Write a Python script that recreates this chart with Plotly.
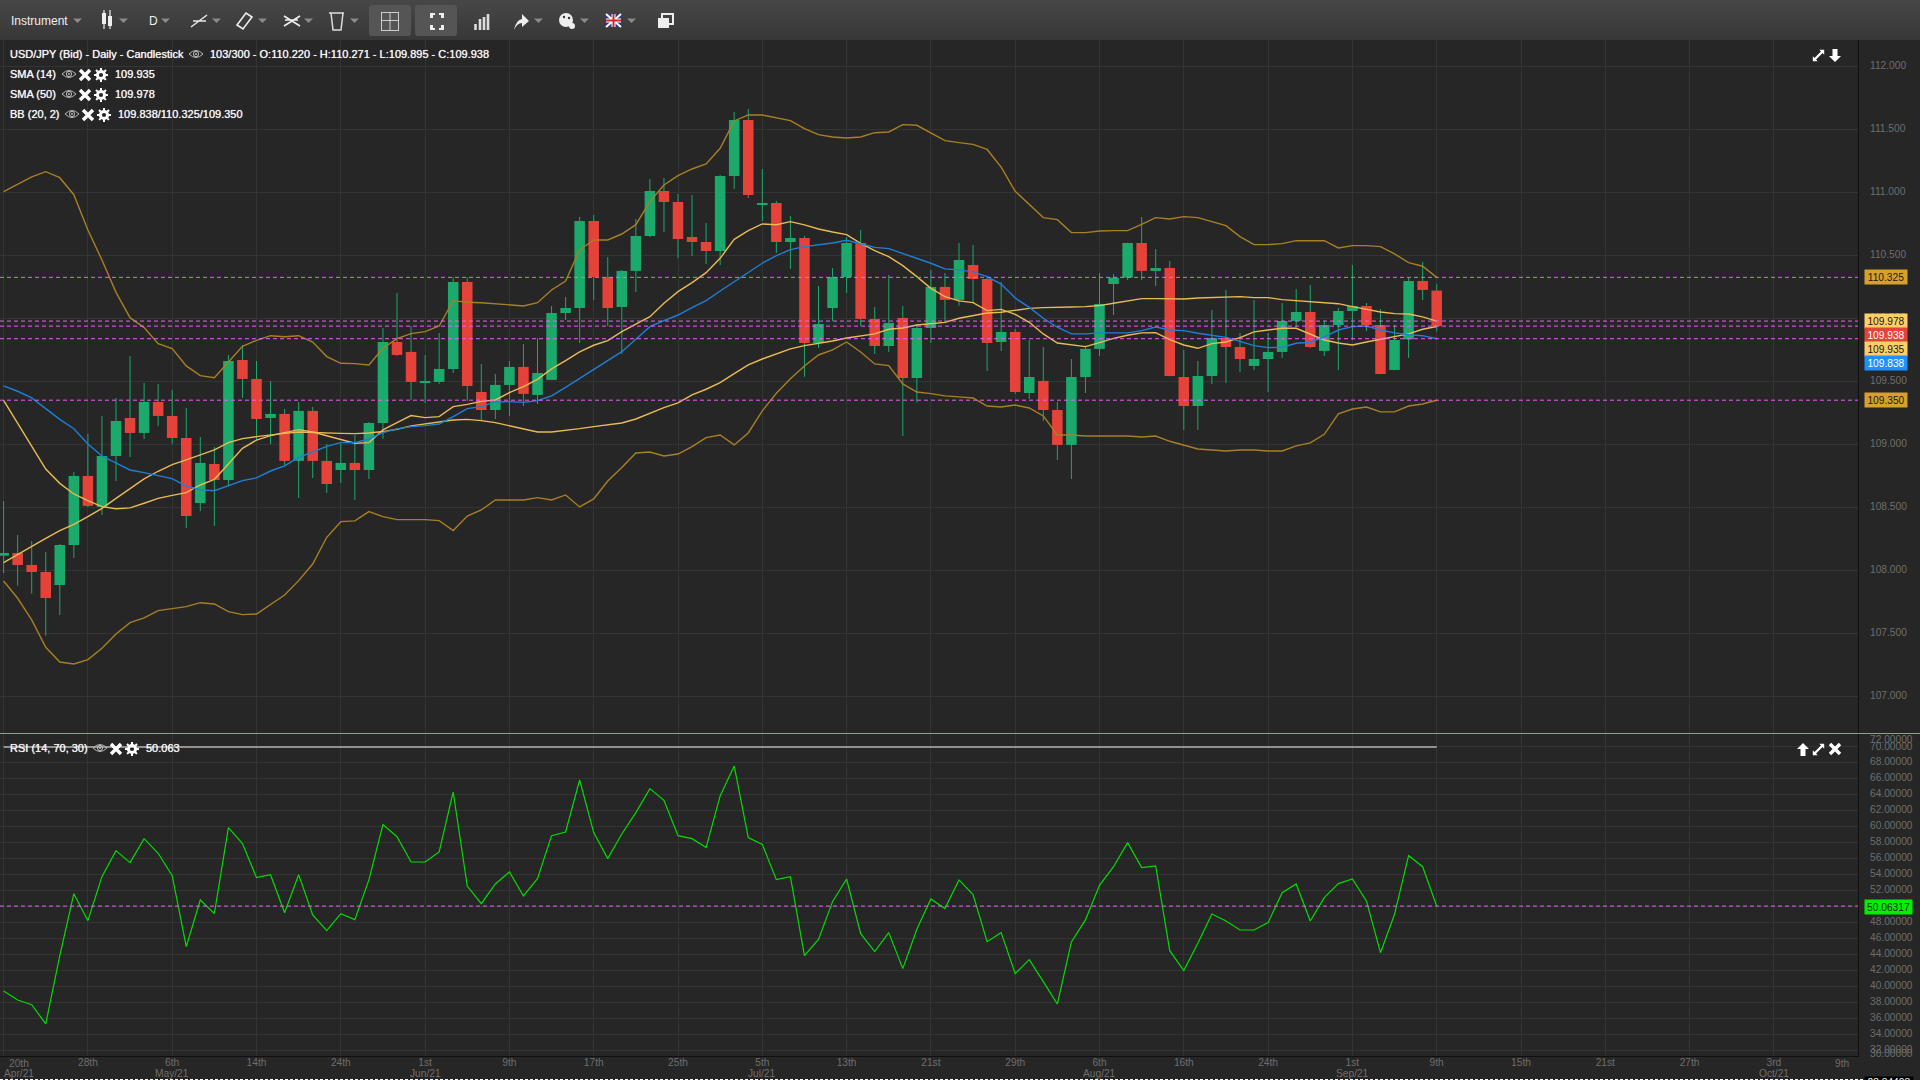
import base64
import plotly.graph_objects as go

# USD/JPY daily, values
opens = [108.116, 108.138, 108.042, 107.987, 107.884, 108.201, 108.749, 108.503, 108.907, 109.209,
         109.09, 109.336, 109.225, 109.05, 108.534, 108.844, 108.717, 109.669, 109.519, 109.209,
         109.241, 108.868, 109.265, 108.868, 108.796, 108.852, 108.796, 109.169, 109.812, 109.733,
         109.49, 109.495, 109.598, 110.288, 109.415, 109.272, 109.471, 109.614, 109.392, 109.511,
         110.042, 110.082, 110.772, 110.328, 110.09, 110.376, 110.653, 111.011, 110.923, 110.646,
         110.606, 110.534, 111.13, 111.574, 110.907, 110.915, 110.606, 110.638, 109.804, 110.082,
         110.328, 110.598, 109.995, 109.78, 110.003, 109.526, 109.923, 110.249, 110.146, 110.423,
         110.312, 109.812, 109.892, 109.407, 109.503, 109.272, 108.995, 109.534, 109.757, 110.272,
         110.323, 110.598, 110.376, 110.399, 109.534, 109.304, 109.542, 109.844, 109.772, 109.622,
         109.677, 109.733, 109.979, 110.05, 109.741, 109.947, 110.058, 110.098, 109.947, 109.59,
         109.833, 110.296, 110.220]
highs = [108.55, 108.28, 108.233, 108.146, 108.209, 108.78, 109.082, 109.225, 109.368, 109.701,
         109.487, 109.479, 109.431, 109.288, 109.058, 108.979, 109.709, 109.788, 109.661, 109.503,
         109.28, 109.336, 109.296, 109.003, 109.003, 109.074, 109.177, 109.923, 110.201, 109.939,
         109.709, 109.884, 110.325, 110.325, 109.638, 109.558, 109.661, 109.796, 109.844, 110.098,
         110.169, 110.804, 110.82, 110.487, 110.384, 110.788, 111.106, 111.114, 110.987, 110.979,
         110.757, 111.138, 111.638, 111.661, 111.185, 110.931, 110.812, 110.653, 110.257, 110.399,
         110.646, 110.701, 110.09, 110.344, 110.098, 109.955, 110.384, 110.36, 110.598, 110.582,
         110.32, 110.288, 109.915, 109.828, 109.772, 109.336, 109.677, 109.78, 110.36, 110.352,
         110.6, 110.804, 110.55, 110.455, 109.749, 109.661, 110.066, 110.225, 109.884, 110.146,
         109.884, 110.122, 110.233, 110.265, 109.979, 110.082, 110.423, 110.122, 110.074, 109.947,
         110.32, 110.447, 110.271]
lows = [107.979, 107.878, 107.815, 107.481, 107.646, 108.098, 108.503, 108.439, 108.709, 108.9,
        109.042, 109.146, 109.003, 108.336, 108.471, 108.352, 108.677, 109.368, 109.026, 109.003,
        108.836, 108.574, 108.733, 108.614, 108.693, 108.558, 108.725, 109.042, 109.701, 109.352,
        109.328, 109.479, 109.566, 109.344, 109.188, 109.201, 109.225, 109.304, 109.32, 109.511,
        109.987, 109.804, 110.146, 109.939, 109.717, 110.209, 110.646, 110.685, 110.479, 110.495,
        110.431, 110.423, 111.026, 110.955, 110.772, 110.519, 110.392, 109.537, 109.765, 109.979,
        110.201, 109.939, 109.717, 109.733, 109.066, 109.331, 109.804, 109.971, 110.10, 110.122,
        109.582, 109.741, 109.399, 109.36, 109.185, 108.876, 108.725, 109.407, 109.701, 110.026,
        110.304, 110.304, 110.257, 109.54, 109.114, 109.114, 109.479, 109.487, 109.574, 109.59,
        109.415, 109.685, 109.93, 109.765, 109.701, 109.59, 109.828, 109.9, 109.555, 109.588,
        109.685, 110.146, 109.895]
closes = [108.138, 108.042, 107.987, 107.78, 108.201, 108.749, 108.511, 108.907, 109.185, 109.09,
          109.336, 109.225, 109.05, 108.431, 108.852, 108.717, 109.661, 109.519, 109.201, 109.241,
          108.868, 109.265, 108.868, 108.685, 108.852, 108.796, 109.169, 109.812, 109.709, 109.495,
          109.495, 109.598, 110.288, 109.463, 109.272, 109.471, 109.614, 109.4, 109.566, 110.042,
          110.082, 110.772, 110.328, 110.082, 110.376, 110.653, 111.011, 110.923, 110.63, 110.606,
          110.534, 111.13, 111.574, 110.979, 110.913, 110.606, 110.638, 109.804, 109.955, 110.328,
          110.598, 109.995, 109.78, 109.963, 109.526, 109.923, 110.249, 110.146, 110.463, 110.312,
          109.804, 109.892, 109.415, 109.534, 109.272, 108.995, 109.534, 109.757, 110.114, 110.323,
          110.598, 110.376, 110.399, 109.542, 109.304, 109.542, 109.844, 109.772, 109.677, 109.677,
          109.733, 109.979, 110.05, 109.772, 109.947, 110.058, 110.098, 109.947, 109.558, 109.828,
          110.296, 110.225, 109.938]

sma14 = [109.349, 109.167, 108.981, 108.804, 108.69, 108.606, 108.553, 108.505, 108.489, 108.495,
         108.532, 108.571, 108.595, 108.616, 108.677, 108.722, 108.844, 108.968, 109.034, 109.069,
         109.093, 109.116, 109.098, 109.069, 109.04, 109.008, 109.013, 109.114, 109.172, 109.228,
         109.212, 109.22, 109.299, 109.317, 109.341, 109.352, 109.41, 109.458, 109.516, 109.598,
         109.664, 109.733, 109.786, 109.823, 109.894, 109.952, 110.013, 110.119, 110.212, 110.283,
         110.362, 110.476, 110.627, 110.696, 110.749, 110.743, 110.767, 110.741, 110.709, 110.685,
         110.664, 110.595, 110.537, 110.489, 110.418, 110.331, 110.238, 110.172, 110.138, 110.124,
         110.061, 110.071, 110.032, 109.968, 109.876, 109.804, 109.791, 109.775, 109.807, 109.841,
         109.865, 109.884, 109.886, 109.831, 109.788, 109.762, 109.799, 109.812, 109.847, 109.892,
         109.907, 109.921, 109.921, 109.876, 109.828, 109.804, 109.788, 109.812, 109.833, 109.852,
         109.876, 109.913, 109.935]
sma50 = [108.061, 108.127, 108.188, 108.254, 108.315, 108.365, 108.426, 108.492, 108.571, 108.648,
         108.725, 108.786, 108.839, 108.876, 108.915, 108.955, 109.013, 109.045, 109.061, 109.077,
         109.087, 109.098, 109.093, 109.09, 109.087, 109.085, 109.09, 109.101, 109.119, 109.146,
         109.161, 109.18, 109.193, 109.198, 109.188, 109.172, 109.146, 109.122, 109.098, 109.098,
         109.108, 109.124, 109.14, 109.153, 109.169, 109.201, 109.249, 109.291, 109.328, 109.392,
         109.437, 109.489, 109.561, 109.63, 109.677, 109.717, 109.757, 109.783, 109.799, 109.82,
         109.844, 109.86, 109.876, 109.913, 109.923, 109.947, 109.96, 109.968, 110.0, 110.019,
         110.042, 110.048, 110.066, 110.079, 110.085, 110.085, 110.09, 110.093, 110.101, 110.119,
         110.14, 110.156, 110.156, 110.153, 110.153, 110.161, 110.164, 110.172, 110.172, 110.164,
         110.164, 110.148, 110.14, 110.13, 110.124, 110.116, 110.093, 110.069, 110.05, 110.037,
         110.034, 110.011, 109.978]
bb_mid = [109.463, 109.421, 109.368, 109.28, 109.198, 109.124, 109.003, 108.907, 108.849, 108.796,
          108.775, 108.749, 108.728, 108.669, 108.638, 108.632, 108.675, 108.712, 108.733, 108.788,
          108.828, 108.897, 108.939, 108.984, 109.013, 109.013, 109.042, 109.093, 109.122, 109.14,
          109.148, 109.161, 109.22, 109.283, 109.299, 109.336, 109.339, 109.333, 109.347, 109.384,
          109.452, 109.524, 109.598, 109.664, 109.735, 109.833, 109.934, 109.981, 110.026, 110.085,
          110.14, 110.217, 110.291, 110.362, 110.437, 110.497, 110.545, 110.569, 110.582, 110.598,
          110.619, 110.59, 110.563, 110.553, 110.516, 110.476, 110.437, 110.392, 110.384, 110.368,
          110.331, 110.272, 110.161, 110.087, 110.0, 109.929, 109.876, 109.876, 109.884, 109.884,
          109.884, 109.902, 109.931, 109.907, 109.902, 109.881, 109.865, 109.849, 109.817, 109.783,
          109.767, 109.77, 109.802, 109.81, 109.852, 109.907, 109.934, 109.939, 109.907, 109.884,
          109.87, 109.862, 109.838]
bb_upper = [111.005, 111.066, 111.122, 111.164, 111.116, 110.981, 110.701, 110.463, 110.206, 110.005,
            109.926, 109.799, 109.759, 109.622, 109.545, 109.529, 109.656, 109.778, 109.825, 109.862,
            109.854, 109.862, 109.812, 109.696, 109.643, 109.64, 109.63, 109.762, 109.839, 109.878,
            109.894, 109.939, 110.14, 110.127, 110.124, 110.116, 110.106, 110.098, 110.124, 110.225,
            110.296, 110.542, 110.622, 110.622, 110.669, 110.743, 110.926, 111.058, 111.132, 111.185,
            111.225, 111.349, 111.566, 111.614, 111.614, 111.593, 111.569, 111.505, 111.458, 111.439,
            111.431, 111.439, 111.473, 111.479, 111.537, 111.532, 111.468, 111.41, 111.394, 111.38,
            111.34, 111.2, 111.008, 110.9, 110.799, 110.783, 110.68, 110.68, 110.693, 110.696,
            110.696, 110.746, 110.799, 110.788, 110.807, 110.799, 110.767, 110.735, 110.648, 110.585,
            110.585, 110.593, 110.616, 110.616, 110.616, 110.558, 110.577, 110.577, 110.569, 110.511,
            110.442, 110.413, 110.325]
bb_lower = [107.915, 107.778, 107.606, 107.389, 107.272, 107.257, 107.291, 107.381, 107.495, 107.585,
            107.622, 107.68, 107.696, 107.712, 107.743, 107.733, 107.672, 107.648, 107.653, 107.725,
            107.804, 107.918, 108.05, 108.262, 108.386, 108.392, 108.466, 108.426, 108.402, 108.402,
            108.402, 108.394, 108.315, 108.431, 108.479, 108.558, 108.558, 108.558, 108.577, 108.558,
            108.598, 108.503, 108.566, 108.709, 108.815, 108.931, 108.939, 108.907, 108.923, 108.981,
            109.053, 109.074, 108.995, 109.09, 109.265, 109.405, 109.521, 109.622, 109.709, 109.749,
            109.812, 109.733, 109.638, 109.624, 109.479, 109.415, 109.402, 109.384, 109.376, 109.368,
            109.304, 109.296, 109.312, 109.288, 109.225, 109.074, 109.074, 109.066, 109.066, 109.066,
            109.066, 109.058, 109.066, 109.024, 108.992, 108.963, 108.955, 108.947, 108.955, 108.955,
            108.947, 108.947, 108.987, 109.011, 109.079, 109.241, 109.28, 109.296, 109.257, 109.257,
            109.304, 109.32, 109.35]
rsi_values = [39.43, 38.30, 37.72, 35.30, 43.86, 51.62, 48.24, 53.75, 57.01, 55.51,
              58.51, 56.68, 53.88, 44.99, 50.83, 49.12, 59.89, 57.89, 53.63, 54.00,
              49.24, 54.00, 48.95, 46.99, 49.12, 48.37, 53.34, 60.27, 58.76, 55.59,
              55.59, 56.84, 64.36, 52.58, 50.37, 52.84, 54.34, 51.33, 53.50, 58.89,
              59.35, 65.86, 59.27, 56.01, 59.10, 61.77, 64.78, 63.32, 58.89, 58.51,
              57.39, 63.86, 67.62, 58.64, 57.80, 53.38, 53.75, 43.86, 45.90, 50.62,
              53.46, 46.61, 44.36, 46.74, 42.23, 47.16, 50.96, 49.75, 53.34, 51.50,
              45.61, 46.74, 41.60, 43.36, 40.60, 37.80, 45.57, 48.33, 52.67, 55.00,
              58.01, 54.88, 55.09, 44.48, 41.98, 45.40, 49.08, 48.20, 47.07, 47.07,
              47.99, 51.75, 52.84, 48.20, 51.12, 52.88, 53.46, 50.71, 44.23, 49.04,
              56.38, 55.00, 50.06]
rsi_upper_level = 70

day_labels = ['20th', '28th', '6th', '14th', '24th', '1st', '9th', '17th', '25th', '5th', '13th', '21st',
              '29th', '6th', '16th', '24th', '1st', '9th', '15th', '21st', '27th', '3rd', '9th']
tick_positions = [i * 6 for i in range(len(day_labels))]
month_labels = {12: 'May/21', 30: 'Jun/21', 54: 'Jul/21', 78: 'Aug/21', 96: 'Sep/21', 126: 'Oct/21'}
price_ticks = [107.0, 107.5, 108.0, 108.5, 109.0, 109.5, 110.0, 110.5, 111.0, 111.5, 112.0]
rsi_ticks = [32, 34, 36, 38, 40, 42, 44, 46, 48, 50, 52, 54, 56, 58, 60, 62, 64, 66, 68, 70]
price_levels = [110.325, 109.978, 109.938, 109.838, 109.350]
rsi_level = 50.06317

BG = '#262626'
GRID = '#343434'
AXIS_TEXT = '#6e6e6e'
TEXT = '#f2f2f2'
GREEN = '#1baa6b'
RED = '#e5433a'
YELLOW = '#e9bb52'
GOLD = '#a97f24'
BLUE = '#1f7fd8'
MAGENTA = '#f25cff'
FONT = 'Liberation Sans'
W, H = 1920, 1080
AXIS_X = 1858
STEP = 14.05
X0 = 3.6
TICK_SIZE = 10.2

idx = list(range(103))
x_range = [-X0 / STEP, (AXIS_X - X0) / STEP]


def fx(px):
    return px / W


def fy(py):
    return 1 - py / H


def label(text, x, y, size=11, color=TEXT, anchor='left', bg=None, **kw):
    font = dict(family=FONT, size=size, color=color)
    # the legend text of the original looks heavier than a plain 11px font
    if size == 11:
        font['shadow'] = '0 0 0.7px #ffffff'
    d = dict(text=text, xref='paper', yref='paper', x=fx(x), y=fy(y), xanchor=anchor, yanchor='middle',
             showarrow=False, font=font, borderpad=0)
    if bg:
        d['bgcolor'] = bg
    d.update(kw)
    return d


def svg_uri(body, w, h):
    svg = f'<svg xmlns="http://www.w3.org/2000/svg" width="{w}" height="{h}" viewBox="0 0 {w} {h}">{body}</svg>'
    return 'data:image/svg+xml;base64,' + base64.b64encode(svg.encode()).decode()


def image(body, x, y, w, h, vw=None, vh=None):
    return dict(source=svg_uri(body, vw or w, vh or h), xref='paper', yref='paper', x=fx(x), y=fy(y), sizex=w / W,
                sizey=h / H, xanchor='left', yanchor='top', sizing='stretch', layer='above')


EYE = ('<path d="M1 6 Q8 -1 15 6 Q8 13 1 6 Z" fill="none" stroke="#bbb" stroke-width="1"/>'
       '<circle cx="8" cy="6" r="2.6" fill="none" stroke="#bbb" stroke-width="1"/><circle cx="8" cy="6" r="1" fill="#bbb"/>')
CROSS = '<path d="M2 2 L12 12 M12 2 L2 12" stroke="#fff" stroke-width="3.4"/>'
GEAR = ('<circle cx="7" cy="7" r="3.6" fill="none" stroke="#fff" stroke-width="3"/>'
        '<path d="M7 0 V14 M0 7 H14 M2 2 L12 12 M12 2 L2 12" stroke="#fff" stroke-width="2" stroke-dasharray="2.4 9.2 2.4"/>')
EXPAND = ('<path d="M9 1 H15 V7 L13 5 L5 13 L7 15 H1 V9 L3 11 L11 3 Z" fill="#fff"/>')
UP = '<path d="M6 0 L12 6 H8.5 V13 H3.5 V6 H0 Z" fill="#fff"/>'
DOWN = '<path d="M6 13 L12 7 H8.5 V0 H3.5 V7 H0 Z" fill="#fff"/>'


def caret(x):
    return f'<path d="M{x} 18.5 H{x + 9} L{x + 4.5} 23 Z" fill="#8a8a8a"/>'


toolbar = (
    '<defs><linearGradient id="g" x1="0" y1="0" x2="0" y2="1"><stop offset="0" stop-color="#474747"/>'
    '<stop offset="1" stop-color="#373737"/></linearGradient></defs>'
    f'<rect width="{W}" height="40" fill="url(#g)"/>'
    '<rect x="369" y="5" width="42" height="31" rx="3" fill="#555555"/>'
    '<rect x="415" y="5" width="42" height="31" rx="3" fill="#555555"/>'
    # candles
    '<path d="M104 10 V29 M110 10 V29" stroke="#eee" stroke-width="1.2"/>'
    '<rect x="102" y="13" width="4" height="11" fill="#eee"/><rect x="108" y="16" width="4" height="10" fill="#eee"/>'
    # line tool
    '<path d="M191 27 L207 15 M193 21 H206" stroke="#e8e8e8" stroke-width="1.5"/>'
    # ruler
    '<path d="M237 25 L246 13 L252 17 L243 29 Z" fill="none" stroke="#eee" stroke-width="1.6"/>'
    # pattern tool
    '<path d="M284 16 L300 26 M284 26 L300 16 M285 20 L298 20" stroke="#eee" stroke-width="1.6"/>'
    # trash
    '<path d="M329 13 H344 M331 13 L333 30 H341 L343 13" fill="none" stroke="#ddd" stroke-width="1.5"/>'
    # window
    '<rect x="381.5" y="12.5" width="17" height="18" fill="none" stroke="#ccc"/><path d="M390 13 V30 M382 20.5 H398" stroke="#ccc"/>'
    # fullscreen
    '<path d="M430 13 H435 V15 H433 V18 H430 Z M444 13 H439 V15 H441 V18 H444 Z M430 30 H435 V28 H433 V25 H430 Z '
    'M444 30 H439 V28 H441 V25 H444 Z" fill="#eee"/>'
    # bar chart
    '<path d="M475.5 24 V30 M480 19 V30 M484 17 V30 M488 14 V30" stroke="#ddd" stroke-width="2.6"/>'
    # arrow
    '<path d="M514 30 Q516 20 522 19 V14 L529 21 L522 27 V23 Q517 23 514 30 Z" fill="#eee"/>'
    # palette
    '<circle cx="566" cy="20" r="7" fill="#eee"/><circle cx="572" cy="26" r="3" fill="#eee"/>'
    '<circle cx="564" cy="17" r="1.2" fill="#333"/><circle cx="569" cy="18" r="1.2" fill="#333"/>'
    # flag
    '<rect x="606" y="14" width="15" height="13" fill="#2b3b8c"/>'
    '<path d="M606 14 L621 27 M621 14 L606 27" stroke="#fff" stroke-width="2"/>'
    '<path d="M613.5 14 V27 M606 20.5 H621" stroke="#fff" stroke-width="4"/><path d="M613.5 14 V27 M606 20.5 H621" stroke="#d6242c" stroke-width="2"/>'
    # copy windows
    '<rect x="662" y="14" width="11" height="10" fill="none" stroke="#eee" stroke-width="2"/><rect x="658" y="18" width="11" height="10" fill="#eee"/>'
    + ''.join(caret(x) for x in (73, 119, 161, 212, 258, 304, 350, 534, 580, 627))
)

images = [
    image(toolbar, 0, 0, W, 40),
    image(EYE, 188, 48, 16, 12), image(EYE, 61, 68, 16, 12), image(CROSS, 78, 68, 14, 14), image(GEAR, 94, 68, 14, 14),
    image(EYE, 61, 88, 16, 12), image(CROSS, 78, 88, 14, 14), image(GEAR, 94, 88, 14, 14),
    image(EYE, 64, 108, 16, 12), image(CROSS, 81, 108, 14, 14), image(GEAR, 97, 108, 14, 14),
    image(EYE, 92, 742, 16, 12), image(CROSS, 109, 742, 14, 14), image(GEAR, 125, 742, 14, 14),
    image(EXPAND, 1812, 49, 13, 13, 16, 16), image(DOWN, 1829, 49, 12, 13),
    image(UP, 1797, 743, 12, 13), image(EXPAND, 1812, 743, 13, 13, 16, 16), image(CROSS, 1828, 742, 14, 14),
]

bodies_base = [min(o, c) for o, c in zip(opens, closes)]
bodies_height = [max(abs(o - c), 0.006) for o, c in zip(opens, closes)]
body_colors = [GREEN if c >= o else RED for o, c in zip(opens, closes)]
wick_height = [h - l for h, l in zip(highs, lows)]

fig = go.Figure()
fig.add_trace(go.Bar(x=idx, y=wick_height, base=lows, width=1 / STEP, marker=dict(color='rgba(27,170,107,0.99)', line_width=0)))
fig.add_trace(go.Bar(x=idx, y=bodies_height, base=bodies_base, width=0.75, marker=dict(color=body_colors, line_width=0)))

for values, color in [(bb_upper, GOLD), (bb_lower, GOLD), (sma50, YELLOW), (sma14, YELLOW), (bb_mid, BLUE)]:
    fig.add_trace(go.Scatter(x=idx, y=values, mode='lines', line=dict(color=color, width=1.4)))

fig.add_trace(go.Scatter(x=idx, y=rsi_values, mode='lines', line=dict(color='#00dc00', width=1.2), xaxis='x2', yaxis='y2'))
fig.add_trace(go.Scatter(x=[idx[0], idx[-1]], y=[rsi_upper_level, rsi_upper_level], mode='lines',
                         line=dict(color='#b4b4b4', width=1.6), xaxis='x2', yaxis='y2'))

shapes = []
for level in price_levels:
    shapes.append(dict(type='line', xref='paper', x0=0, x1=fx(AXIS_X), yref='y', y0=level, y1=level,
                       line=dict(color=MAGENTA, width=1, dash='4px,3px')))
shapes.append(dict(type='line', xref='paper', x0=0, x1=fx(AXIS_X), yref='y2', y0=rsi_level, y1=rsi_level,
                   line=dict(color=MAGENTA, width=1, dash='4px,3px')))
# divider between panes and the dashed line on the very bottom
shapes.append(dict(type='line', xref='paper', x0=0, x1=1, yref='paper', y0=fy(733.5), y1=fy(733.5),
                   line=dict(color='#58aecb', width=1)))
shapes.append(dict(type='line', xref='paper', x0=0, x1=fx(1865), yref='paper', y0=fy(1079.5), y1=fy(1079.5),
                   line=dict(color='#ffffff', width=1, dash='3px,2px')))

annotations = [
    label('Instrument', 10, 21, size=12, color='#eeeeee'),
    label('D', 148, 21, size=12, color='#eeeeee'),
    label('USD/JPY (Bid) - Daily - Candlestick', 9, 54),
    label('103/300 - O:110.220 - H:110.271 - L:109.895 - C:109.938', 209, 54),
    label('SMA (14)', 9, 74), label('109.935', 114, 74),
    label('SMA (50)', 9, 94), label('109.978', 114, 94),
    label('BB (20, 2)', 9, 114), label('109.838/110.325/109.350', 117, 114),
    label('RSI (14, 70, 30)', 9, 748), label('50.063', 145, 748),
    # end labels pushed inside the pane
    label('20th', 19, 1063, size=TICK_SIZE, color=AXIS_TEXT, anchor='center'),
    label('Apr/21', 19, 1073, size=TICK_SIZE, color=AXIS_TEXT, anchor='center'),
    label('9th', 1842, 1063, size=TICK_SIZE, color=AXIS_TEXT, anchor='center'),
    label('72.00000', 1869, 739, size=TICK_SIZE, color=AXIS_TEXT),
    label('30.00000', 1869, 1053, size=TICK_SIZE, color=AXIS_TEXT),
    label('28.34403', 1889, 1082, size=TICK_SIZE, color='#ffffff', anchor='center', bg='#000000', width=48),
]
for pos, month in month_labels.items():
    annotations.append(dict(text=month, xref='x2', yref='paper', x=pos, y=fy(1073), xanchor='center', yanchor='middle',
                            showarrow=False, font=dict(family=FONT, size=TICK_SIZE, color=AXIS_TEXT), borderpad=0))

# value tags on the price axis
for text, y, bg, color in [('110.325', 277, '#d6a02a', '#1a1a1a'), ('109.978', 321, '#ffce66', '#1a1a1a'),
                           ('109.938', 335, RED, '#ffffff'), ('109.935', 349, '#ffce66', '#1a1a1a'),
                           ('109.838', 363, '#1e90ff', '#ffffff'), ('109.350', 400, '#d6a02a', '#1a1a1a')]:
    annotations.append(label(text, 1886, y, size=TICK_SIZE, color=color, anchor='center', bg=bg, width=42, height=14))
annotations.append(label('50.06317', 1888, 906.5, size=TICK_SIZE, color='#1a1a1a', anchor='center', bg='#00f000', width=47, height=14))

x_common = dict(range=x_range, domain=[0, fx(AXIS_X)], tickvals=tick_positions, showgrid=True, gridcolor=GRID,
                gridwidth=1, zeroline=False, ticks='')
y_common = dict(side='right', showgrid=True, gridcolor=GRID, gridwidth=1, zeroline=False, ticks='',
                showline=True, linecolor='#101010', linewidth=1, ticklabelposition='outside',
                ticklabelstandoff=9, ticklabelshift=-1, tickfont=dict(family=FONT, size=TICK_SIZE, color=AXIS_TEXT))

fig.update_layout(
    width=W, height=H, autosize=False, margin=dict(l=0, r=0, t=0, b=0), paper_bgcolor=BG, plot_bgcolor=BG,
    showlegend=False, barmode='overlay', hovermode=False, shapes=shapes, annotations=annotations, images=images,
    xaxis=dict(**x_common, anchor='y', showticklabels=False),
    yaxis=dict(**y_common, anchor='x', domain=[fy(733.5), fy(40)], tickvals=price_ticks, tickformat='.3f',
               range=[110 - (733.5 - 318.3) / 126, 110 + (318.3 - 40) / 126]),
    xaxis2=dict(**x_common, anchor='y2', ticktext=[''] + day_labels[1:-1] + [''], showline=True, linecolor='#101010',
                linewidth=1, ticklabelstandoff=-3, tickfont=dict(family=FONT, size=TICK_SIZE, color=AXIS_TEXT)),
    yaxis2=dict(**y_common, anchor='x2', domain=[fy(1056), fy(734)], tickvals=rsi_ticks, tickformat='.5f',
                range=[32 - (1056 - 1050.3) / 7.983, 32 + (1050.3 - 734) / 7.983]),
)

fig.write_html("out.html", config={'displayModeBar': False},
               post_script="document.body.style.margin='0';document.body.style.overflow='hidden';")
